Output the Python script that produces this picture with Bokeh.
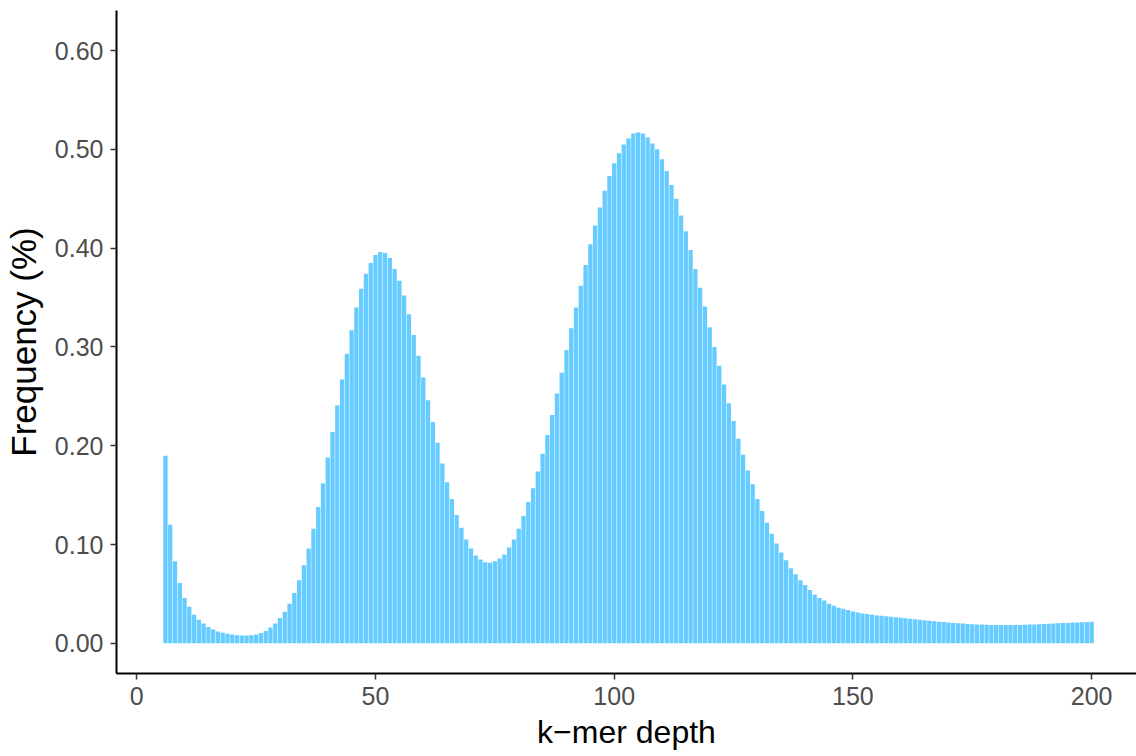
from bokeh.plotting import figure
from bokeh.models import FixedTicker, NumeralTickFormatter, Range1d
from bokeh.embed import file_html
from bokeh.resources import INLINE

# k-mer depth histogram: one bar per depth value, 6..200
depth = list(range(6, 201))

freq = [
    # 6-20
    0.190, 0.120, 0.083, 0.061, 0.046, 0.037, 0.029, 0.024, 0.020, 0.0165,
    0.014, 0.012, 0.0108, 0.0097, 0.0089,
    # 21-40
    0.0083, 0.0080, 0.0079, 0.0082, 0.0090, 0.0105, 0.0125, 0.016, 0.020, 0.0256,
    0.032, 0.040, 0.051, 0.064, 0.079, 0.096, 0.116, 0.138, 0.162, 0.188,
    # 41-60
    0.214, 0.241, 0.267, 0.293, 0.317, 0.340, 0.359, 0.374, 0.385, 0.393,
    0.396, 0.395, 0.390, 0.379, 0.367, 0.352, 0.333, 0.312, 0.291, 0.269,
    # 61-80
    0.246, 0.224, 0.203, 0.182, 0.163, 0.146, 0.130, 0.117, 0.105, 0.096,
    0.089, 0.085, 0.082, 0.0815, 0.083, 0.086, 0.090, 0.097, 0.105, 0.116,
    # 81-100
    0.129, 0.143, 0.157, 0.174, 0.192, 0.211, 0.231, 0.253, 0.274, 0.297,
    0.319, 0.340, 0.362, 0.383, 0.404, 0.423, 0.441, 0.458, 0.473, 0.486,
    # 101-120
    0.496, 0.505, 0.511, 0.516, 0.517, 0.516, 0.512, 0.506, 0.500, 0.490,
    0.478, 0.464, 0.450, 0.433, 0.417, 0.398, 0.379, 0.360, 0.341, 0.320,
    # 121-140
    0.300, 0.281, 0.262, 0.243, 0.225, 0.207, 0.191, 0.175, 0.161, 0.146,
    0.134, 0.122, 0.111, 0.101, 0.092, 0.084, 0.076, 0.070, 0.064, 0.059,
    # 141-160
    0.054, 0.0495, 0.046, 0.0434, 0.040, 0.038, 0.036, 0.035, 0.0337, 0.0323,
    0.0313, 0.0303, 0.0296, 0.029, 0.0283, 0.028, 0.0275, 0.027, 0.0265, 0.026,
    # 161-180
    0.0255, 0.025, 0.0245, 0.024, 0.0235, 0.023, 0.0225, 0.022, 0.0215, 0.021,
    0.0207, 0.0203, 0.020, 0.0197, 0.0194, 0.0192, 0.019, 0.0188, 0.0187, 0.0186,
    # 181-200
    0.0185, 0.0185, 0.0185, 0.0185, 0.0186, 0.0188, 0.019, 0.0192, 0.0194, 0.0196,
    0.0198, 0.020, 0.0203, 0.0205, 0.0207, 0.021, 0.0212, 0.0214, 0.0216, 0.0218,
]

x_ticks = [0, 50, 100, 150, 200]
y_ticks = [0.0, 0.1, 0.2, 0.3, 0.4, 0.5, 0.6]

BAR_COLOR = "#66CCFF"
FONT = "Liberation Sans"

p = figure(
    width=1136, height=756,
    output_backend="svg", toolbar_location=None,
    x_range=Range1d(-4.25, 209.4), y_range=Range1d(-0.0305, 0.6405),
    min_border_left=116, min_border_right=0,
    min_border_top=10, min_border_bottom=83,
)

p.vbar(x=depth, top=freq, bottom=0, width=0.9,
       fill_color=BAR_COLOR, line_color=None)

p.outline_line_color = None
p.xgrid.grid_line_color = None
p.ygrid.grid_line_color = None
p.background_fill_color = "white"
p.border_fill_color = "white"

for ax in (p.xaxis[0], p.yaxis[0]):
    ax.axis_line_color = "black"
    ax.axis_line_width = 2
    ax.major_tick_line_color = "#333333"
    ax.major_tick_line_width = 1.5
    ax.major_tick_out = 6
    ax.major_tick_in = 0
    ax.minor_tick_line_color = None
    ax.major_label_text_font = FONT
    ax.major_label_text_font_size = "25px"
    ax.major_label_text_color = "#4D4D4D"
    ax.major_label_standoff = 7
    ax.axis_label_text_font = FONT
    ax.axis_label_text_font_style = "normal"
    ax.axis_label_text_color = "black"

p.xaxis.ticker = FixedTicker(ticks=x_ticks)
p.yaxis.ticker = FixedTicker(ticks=y_ticks)
p.yaxis.formatter = NumeralTickFormatter(format="0.00")

p.xaxis.axis_label = "k\u2212mer depth"
p.xaxis.axis_label_text_font_size = "32px"
p.xaxis.axis_label_standoff = 6

p.yaxis.axis_label = "Frequency (%)"
p.yaxis.axis_label_text_font_size = "35px"
p.yaxis.axis_label_standoff = 9

open("out.html", "w").write(file_html(p, INLINE))
